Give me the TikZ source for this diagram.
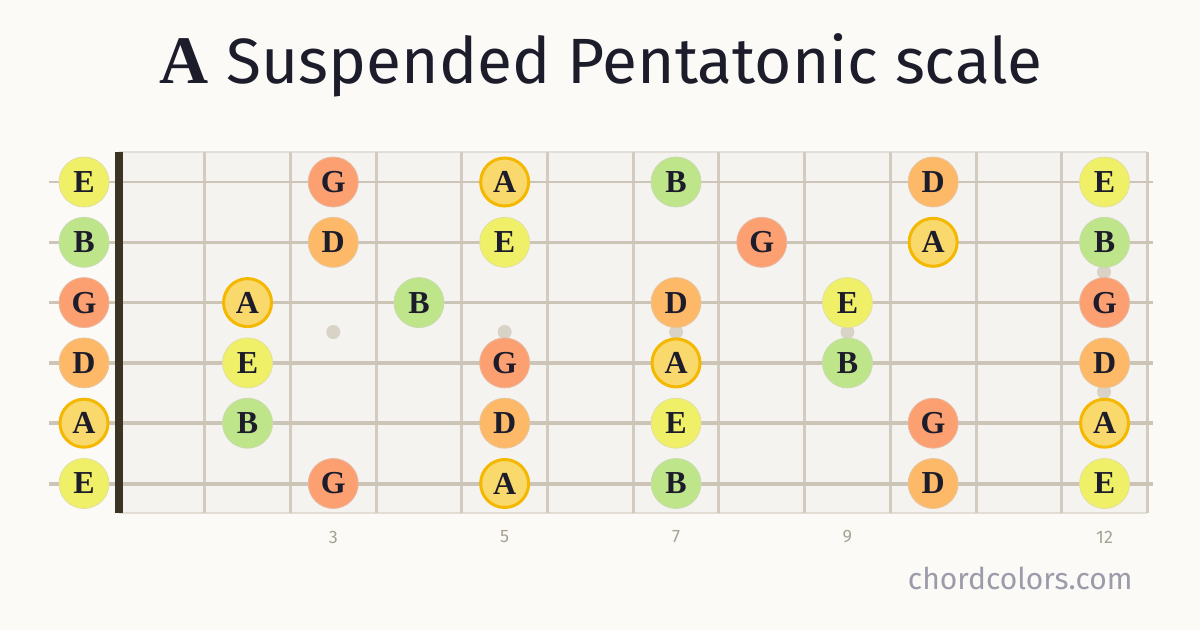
\documentclass[tikz,border=0pt]{standalone}
\usepackage{fontspec}
\setmainfont{Liberation Serif}
\newfontfamily\titlefont{Fira Sans}
\newfontfamily\markfont{Fira Sans}

\definecolor{pagebg}{HTML}{FBFAF7}
\definecolor{boardbg}{HTML}{F5F3EF}
\definecolor{boardedge}{HTML}{E2DDD5}
\definecolor{fretcol}{HTML}{D3CBBF}
\definecolor{stringcol}{HTML}{CDC4B8}
\definecolor{nutcol}{HTML}{3B3424}
\definecolor{dotcol}{HTML}{D8D2C7}
\definecolor{inkcol}{HTML}{1D1C2B}
\definecolor{numcol}{HTML}{A8A294}
\definecolor{sitecol}{HTML}{9C9BAA}
\definecolor{Ecol}{HTML}{F0F068}
\definecolor{Bcol}{HTML}{BFE58A}
\definecolor{Gcol}{HTML}{FCA072}
\definecolor{Dcol}{HTML}{FDB968}
\definecolor{Acol}{HTML}{F9D86C}
\definecolor{rootring}{HTML}{F5B800}

\tikzset{
  note/.style={circle, minimum size=50pt, inner sep=0pt, line width=0.8pt,
    font=\fontsize{32}{32}\selectfont\bfseries, text=inkcol},
  noteE/.style={note, fill=Ecol, draw=Ecol!85!black!60},
  noteB/.style={note, fill=Bcol, draw=Bcol!85!black!60},
  noteG/.style={note, fill=Gcol, draw=Gcol!85!black!60},
  noteD/.style={note, fill=Dcol, draw=Dcol!85!black!60},
  noteA/.style={note, fill=Acol, draw=rootring, line width=3pt, minimum size=48pt},
  fretnum/.style={font=\markfont\fontsize{18}{18}\selectfont, text=numcol}
}

\begin{document}
\begin{tikzpicture}[x=1pt, y=-1pt]
  \useasboundingbox (0,0) rectangle (1200,630);
  \fill[pagebg] (0,0) rectangle (1200,630);

  % title
  \node[text=inkcol] (title) at (601,65)
    {\fontsize{68}{68}\selectfont\bfseries A\hspace{18pt}\titlefont\mdseries\fontsize{64}{64}\selectfont Suspended Pentatonic scale};

  % fretboard
  \fill[boardbg] (119,152) rectangle (1147,513);
  \draw[boardedge, line width=2pt] (119,152) -- (1147,152);
  \draw[boardedge, line width=2pt] (119,513) -- (1147,513);
  \foreach \k in {1,...,12}
    \draw[fretcol, line width=3pt] ({119+85.7*\k},152) -- ({119+85.7*\k},513);

  % position dots
  \foreach \k in {3,5,7,9}
    \fill[dotcol] ({119+85.7*(\k-0.5)},332) circle (7);
  \fill[dotcol] (1104,272) circle (7);
  \fill[dotcol] (1104,392) circle (7);

  % strings
  \foreach \s/\w in {0/2,1/2.4,2/2.8,3/3.2,4/3.6,5/4}
    \draw[stringcol, line width=\w pt] (49,{182+60.3*\s}) -- (1153,{182+60.3*\s});

  % nut
  \fill[nutcol] (115,152) rectangle (123,513);

  % notes: string/fret/name
  \foreach \s/\f/\n in {
      0/0/E, 0/3/G, 0/5/A, 0/7/B, 0/10/D, 0/12/E,
      1/0/B, 1/3/D, 1/5/E, 1/8/G, 1/10/A, 1/12/B,
      2/0/G, 2/2/A, 2/4/B, 2/7/D, 2/9/E, 2/12/G,
      3/0/D, 3/2/E, 3/5/G, 3/7/A, 3/9/B, 3/12/D,
      4/0/A, 4/2/B, 4/5/D, 4/7/E, 4/10/G, 4/12/A,
      5/0/E, 5/3/G, 5/5/A, 5/7/B, 5/10/D, 5/12/E}
  {
    \ifnum\f=0
      \node[note\n] (n\s-\f) at (84,{182+60.3*\s}) {\n};
    \else
      \node[note\n] (n\s-\f) at ({119+85.7*(\f-0.5)},{182+60.3*\s}) {\n};
    \fi
  }

  % fret numbers
  \foreach \k in {3,5,7,9,12}
    \node[fretnum] (num\k) at ({119+85.7*(\k-0.5)},537) {\k};

  \node[font=\markfont\fontsize{30}{30}\selectfont, text=sitecol, anchor=east] (site) at (1136,578) {chordcolors.com};
\end{tikzpicture}
\end{document}
